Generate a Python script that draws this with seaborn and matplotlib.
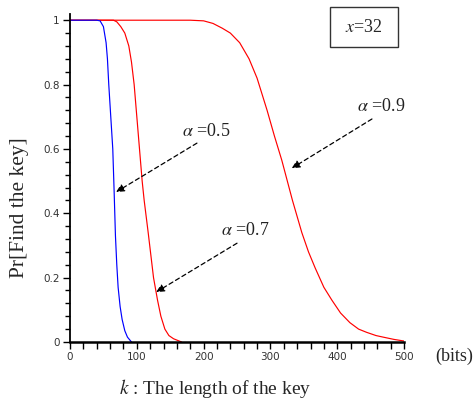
import matplotlib
matplotlib.use("Agg")
import matplotlib.pyplot as plt
import matplotlib.ticker as mticker
from matplotlib.patches import Rectangle
import seaborn as sns
import pandas as pd

# data: Pr[find the key] vs key length k (x = 32)
k_05 = [0, 40, 45, 50, 54, 56, 58, 61, 64, 66, 68, 70, 72, 75, 78, 82, 86, 92]
p_05 = [1, 1, 0.998, 0.98, 0.93, 0.88, 0.8, 0.7, 0.6, 0.47, 0.33, 0.24, 0.17, 0.11, 0.07, 0.035, 0.015, 0]

k_07 = [0, 65, 70, 76, 82, 88, 92, 96, 100, 104, 108, 111, 117, 121, 125, 131, 136, 142, 148, 155, 167]
p_07 = [1, 1, 0.995, 0.98, 0.96, 0.92, 0.87, 0.8, 0.7, 0.6, 0.5, 0.44, 0.34, 0.27, 0.2, 0.13, 0.08, 0.04, 0.02, 0.01, 0]

k_09 = [0, 180, 200, 214, 228, 240, 254, 268, 280, 295, 306, 317, 333, 347, 357, 367,
        380, 392, 405, 419, 432, 444, 458, 469, 485, 500]
p_09 = [1, 1, 0.998, 0.99, 0.975, 0.96, 0.93, 0.88, 0.82, 0.72, 0.64, 0.565, 0.44, 0.34,
        0.28, 0.23, 0.17, 0.13, 0.09, 0.06, 0.04, 0.03, 0.02, 0.015, 0.008, 0.003]

alphas = ["0.9", "0.7", "0.5"]
colors = {"0.9": "#ff0000", "0.7": "#ff0000", "0.5": "#0000ff"}

# annotation arrows: label, text pos, tail, tip (data units)
notes = [
    ("0.5", (204, 0.655), (190, 0.618), (69, 0.466)),
    ("0.7", (263, 0.348), (250, 0.307), (129, 0.155)),
    ("0.9", (466, 0.733), (452, 0.693), (332, 0.54)),
]

df = pd.concat([
    pd.DataFrame({"k": k_09, "p": p_09, "alpha": "0.9"}),
    pd.DataFrame({"k": k_07, "p": p_07, "alpha": "0.7"}),
    pd.DataFrame({"k": k_05, "p": p_05, "alpha": "0.5"}),
])

sns.set_style("ticks")
plt.rcParams["mathtext.fontset"] = "stix"
plt.rcParams["font.family"] = ["Liberation Serif", "DejaVu Serif"]

fig = plt.figure(figsize=(4.77, 4.05), dpi=100)
ax = fig.add_axes([0.1468, 0.1556, 0.7002, 0.8104])

sns.lineplot(data=df, x="k", y="p", hue="alpha", hue_order=alphas,
             palette=colors, sort=False, estimator=None, legend=False,
             linewidth=0.85, ax=ax)

ax.set_xlim(0, 500)
ax.set_ylim(0, 1.02)
ax.set_xlabel("")
ax.set_ylabel("")
sns.despine(ax=ax)
for s in ["left", "bottom"]:
    ax.spines[s].set_color("black")
ax.spines["left"].set_linewidth(1.3)
ax.spines["bottom"].set_linewidth(1.8)

ax.xaxis.set_major_locator(mticker.MultipleLocator(100))
ax.xaxis.set_minor_locator(mticker.MultipleLocator(20))
ax.yaxis.set_major_locator(mticker.FixedLocator([0, 0.2, 0.4, 0.6, 0.8, 1.0]))
ax.yaxis.set_minor_locator(mticker.MultipleLocator(0.04))
ax.yaxis.set_major_formatter(mticker.FuncFormatter(lambda v, _: f"{v:g}"))
ax.tick_params(which="major", direction="out", length=5, width=1, color="black",
               labelsize=7.5, labelcolor="#333333", pad=2.5)
ax.tick_params(which="minor", direction="out", length=3.5, width=1, color="black")
ax.tick_params(axis="x", which="both", length=5)
for lab in ax.get_xticklabels() + ax.get_yticklabels():
    lab.set_fontfamily("DejaVu Sans")

for a, txt, tail, tip in notes:
    ax.annotate("", xy=tip, xytext=tail,
                arrowprops=dict(arrowstyle="-|>", color="black", lw=0.9,
                                linestyle=(0, (3.5, 2.5)), mutation_scale=12,
                                shrinkA=0, shrinkB=0))
    ax.text(txt[0], txt[1], r"$\alpha$ =" + a, fontsize=13, ha="center",
            va="center", color="#222222")

# x=32 box
fig.patches.append(Rectangle((330 / 477, 1 - 47 / 405), 68 / 477, 40 / 405,
                             transform=fig.transFigure, fill=False,
                             edgecolor="#333333", lw=1))
fig.text(364 / 477, 1 - 27 / 405, r"$x$=32", fontsize=13, ha="center", va="center")

fig.text(20 / 477, 1 - 208 / 405, "Pr[Find the key]", fontsize=15.5,
         rotation=90, ha="center", va="center")
fig.text(215 / 477, 1 - 388 / 405, r"$k$ : The length of the key", fontsize=14,
         ha="center", va="center")
fig.text(454 / 477, 1 - 356 / 405, "(bits)", fontsize=13, ha="center", va="center")

fig.savefig("out.png", dpi=100)
